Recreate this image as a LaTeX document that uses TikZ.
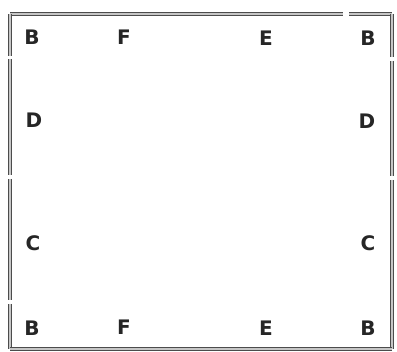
\documentclass[tikz,border=0pt]{standalone}
\usepackage{fontspec}
\setmainfont{DejaVu Sans}
\begin{document}
\begin{tikzpicture}[x=1pt,y=-1pt,
  edge/.style={draw=gray!60!black, double=gray!45, line width=1.1pt, double distance=1.8pt},
  lbl/.style={font=\bfseries\fontsize{20}{20}\selectfont, text=black!85, inner sep=0pt}]
\useasboundingbox (0,0) rectangle (397,352);
% corners / junction coordinates
\coordinate (tl) at (10,14);
\coordinate (t1) at (57,14);
\coordinate (t2) at (343,14);
\coordinate (t3) at (349,14);
\coordinate (tr) at (392,14);
\coordinate (l1) at (10,56);
\coordinate (l2) at (10,59);
\coordinate (l3) at (10,175);
\coordinate (l4) at (10,179);
\coordinate (l5) at (10,300);
\coordinate (l6) at (10,304);
\coordinate (bl) at (10,349);
\coordinate (r1) at (392,57);
\coordinate (r2) at (392,61);
\coordinate (r3) at (392,176);
\coordinate (r4) at (392,180);
\coordinate (br) at (392,349);
% edges
\draw[edge] (tl) -- (t1);
\draw[edge] (t1) -- (t2);
\draw[edge] (t3) -- (tr);
\draw[edge] (tl) -- (l1);
\draw[edge] (l2) -- (l3);
\draw[edge] (l4) -- (l5);
\draw[edge] (l6) -- (bl);
\draw[edge] (tr) -- (r1);
\draw[edge] (r2) -- (r3);
\draw[edge] (r4) -- (br);
\draw[edge] (bl) -- (br);
% labels
\node[lbl] (b1) at (32,37) {B};
\node[lbl] (f1) at (124,37) {F};
\node[lbl] (e1) at (266,38) {E};
\node[lbl] (b2) at (368,38) {B};
\node[lbl] (d1) at (34,120) {D};
\node[lbl] (d2) at (367,121) {D};
\node[lbl] (c1) at (33,243) {C};
\node[lbl] (c2) at (368,243) {C};
\node[lbl] (b3) at (32,328) {B};
\node[lbl] (f2) at (124,327) {F};
\node[lbl] (e2) at (266,328) {E};
\node[lbl] (b4) at (368,328) {B};
\end{tikzpicture}
\end{document}
